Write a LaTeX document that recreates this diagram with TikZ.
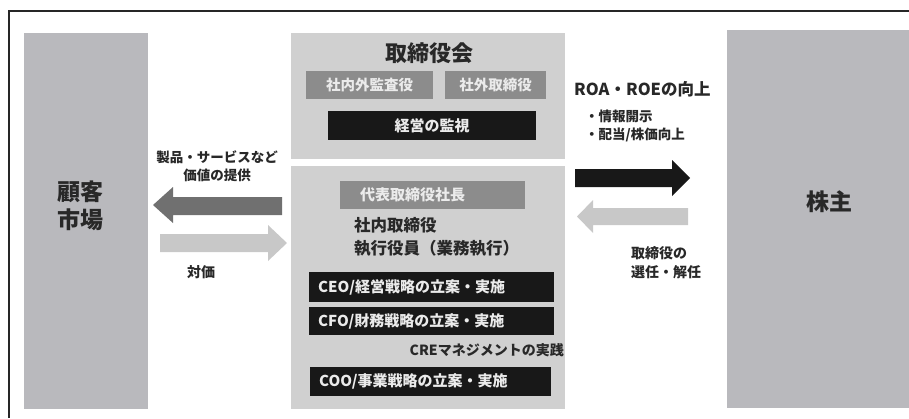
\documentclass[tikz,border=0pt]{standalone}
\usepackage{fontspec}
\newfontfamily\jp{Noto Sans CJK JP}
\definecolor{sidegray}{RGB}{185,185,189}
\definecolor{centergray}{RGB}{208,208,208}
\definecolor{midgray}{RGB}{140,140,140}
\definecolor{darkarrow}{RGB}{112,112,112}
\definecolor{lightarrow}{RGB}{200,200,200}
\definecolor{nearblack}{RGB}{24,24,24}
\definecolor{txt}{RGB}{40,40,40}
\tikzset{
  panel/.style={fill=#1, draw=none, inner sep=0pt},
  subbox/.style={fill=midgray, draw=none, inner sep=0pt, text=white!92!black},
  blackbox/.style={fill=nearblack, draw=none, inner sep=0pt, text=white!92!black},
  lbl/.style={inner sep=0pt, text=txt, font=\jp\bfseries},
}
\begin{document}
\begin{tikzpicture}[x=1pt,y=-1pt,font=\jp\bfseries]
\useasboundingbox (0,0) rectangle (909,418);
\draw[line width=1.3pt, color=black!85] (9,418) -- (9,11) -- (909,11);
% panels
\node[panel=sidegray, minimum width=124pt, minimum height=376pt] (market) at (86,221) {};
\node[panel=centergray, minimum width=274pt, minimum height=126pt] (board) at (428,96) {};
\node[panel=centergray, minimum width=274pt, minimum height=243pt] (exec) at (428,287.5) {};
\node[panel=sidegray, minimum width=182pt, minimum height=378pt] (holder) at (818,219) {};
% panel labels
\node[lbl, font=\jp\bfseries\fontsize{23}{28}\selectfont, align=center] (marketlbl) at (80,206) {顧客\\市場};
\node[lbl, font=\jp\bfseries\fontsize{23}{28}\selectfont] (holderlbl) at (829,202) {株主};
\node[lbl, font=\jp\bfseries\fontsize{22}{25}\selectfont] (boardlbl) at (429,53) {取締役会};
% board sub boxes
\node[subbox, minimum width=127pt, minimum height=28pt, font=\jp\bfseries\fontsize{14.5}{17}\selectfont] (audit) at (369.5,85) {社内外監査役};
\node[subbox, minimum width=101pt, minimum height=28pt, font=\jp\bfseries\fontsize{14.5}{17}\selectfont] (outside) at (495.5,85) {社外取締役};
\node[blackbox, minimum width=208pt, minimum height=29pt, font=\jp\bfseries\fontsize{15}{18}\selectfont] (monitor) at (432,125.5) {経営の監視};
% exec panel
\node[subbox, minimum width=185pt, minimum height=28pt] (presbox) at (432.5,195) {};
\node[lbl, anchor=west, text=white!92!black, font=\jp\bfseries\fontsize{15}{18}\selectfont] (president) at (360,195) {代表取締役社長};
\node[lbl, anchor=west, font=\jp\bfseries\fontsize{16.5}{23}\selectfont, align=left] (inside) at (354,237) {社内取締役\\執行役員（業務執行）};
\node[blackbox, minimum width=245pt, minimum height=30pt] (ceo) at (431.5,287) {};
\node[lbl, anchor=west, text=white!92!black, font=\jp\bfseries\fontsize{15}{17}\selectfont] (ceot) at (318,287) {CEO/経営戦略の立案・実施};
\node[blackbox, minimum width=245pt, minimum height=28pt] (cfo) at (431.5,321) {};
\node[lbl, anchor=west, text=white!92!black, font=\jp\bfseries\fontsize{15}{17}\selectfont] (cfot) at (318,321) {CFO/財務戦略の立案・実施};
\node[lbl, anchor=east, font=\jp\bfseries\fontsize{14}{16}\selectfont] (cre) at (564,350) {CREマネジメントの実践};
\node[blackbox, minimum width=241pt, minimum height=29pt] (coo) at (430.5,381.5) {};
\node[lbl, anchor=west, text=white!92!black, font=\jp\bfseries\fontsize{15}{17}\selectfont] (coot) at (319,381.5) {COO/事業戦略の立案・実施};
% left arrows
\coordinate (dl) at (153,205);
\fill[darkarrow] (dl) -- (173,187) -- (173,197) -- (282,197) -- (282,215) -- (173,215) -- (173,223) -- cycle;
\coordinate (lr) at (287,243);
\fill[lightarrow] (lr) -- (268,225) -- (268,234) -- (160,234) -- (160,252) -- (268,252) -- (268,261) -- cycle;
\node[lbl, font=\jp\bfseries\fontsize{13.5}{18}\selectfont, align=center] (product) at (217,166) {製品・サービスなど\\価値の提供};
\node[lbl, font=\jp\bfseries\fontsize{14}{17}\selectfont] (price) at (201,272) {対価};
% right arrows
\coordinate (br) at (690,178);
\fill[nearblack] (br) -- (672,160) -- (672,169) -- (575,169) -- (575,187) -- (672,187) -- (672,196) -- cycle;
\coordinate (gl) at (577,216.5);
\fill[lightarrow] (gl) -- (593,200) -- (593,208) -- (688,208) -- (688,225) -- (593,225) -- (593,233) -- cycle;
\node[lbl, anchor=west, font=\jp\bfseries\fontsize{16.5}{19}\selectfont] (roa) at (574,89) {ROA・ROEの向上};
\node[lbl, anchor=west, font=\jp\bfseries\fontsize{13.5}{18}\selectfont, align=left] (disc) at (585,126) {・情報開示\\・配当/株価向上};
\node[lbl, anchor=west, font=\jp\bfseries\fontsize{14}{19}\selectfont, align=left] (elect) at (631,262.5) {取締役の\\選任・解任};
\end{tikzpicture}
\end{document}
